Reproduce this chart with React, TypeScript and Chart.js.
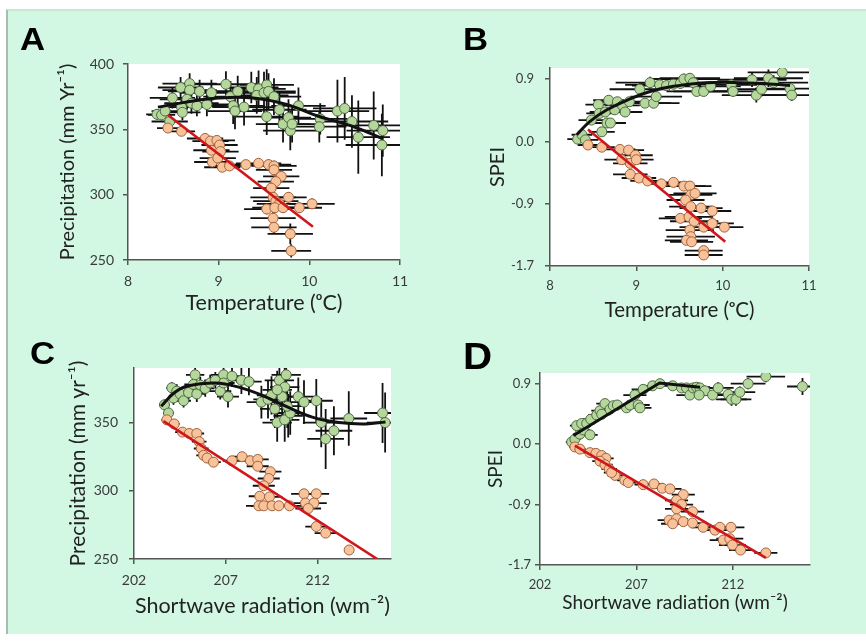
import React, { useEffect, useRef } from "react";
import { Chart, registerables } from "chart.js";
Chart.register(...registerables);

// ---------------- Tick values / labels ----------------
const tempTicks = [8, 9, 10, 11];
const tempTickLabels = ["8", "9", "10", "11"];
const radTicks = [202, 207, 212];
const radTickLabels = ["202", "207", "212"];
const precipTicksA = [250, 300, 350, 400];
const precipTickLabelsA = ["250", "300", "350", "400"];
const precipTicksC = [250, 300, 350];
const precipTickLabelsC = ["250", "300", "350"];
const speiTicks = [-1.7, -0.85, 0, 0.85];
const speiTickLabels = ["-1.7", "-0.9", "0.0", "0.9"];

// ---------------- Panel A: Temperature vs Precipitation ----------------
const aGreenT = [8.32, 8.37, 8.41, 8.46, 8.49, 8.58, 8.68, 8.68, 8.59, 8.6, 8.65, 8.7, 8.79, 8.76, 8.87, 8.92, 9.08, 9.13, 9.16, 9.21, 9.28, 9.18, 9.36, 9.44, 9.42, 9.53, 9.5, 9.55, 9.61, 9.53, 9.67, 9.71, 9.77, 9.79, 9.81, 9.88, 10.12, 10.11, 10.31, 10.39, 10.47, 10.54, 10.71, 10.81, 10.8];
const aGreenP = [361.5, 361, 364, 356, 374, 382, 385, 380, 367, 363, 373, 370, 379, 368, 369, 378, 384.5, 375, 368, 379, 367, 364, 382, 381, 376, 384, 378, 379, 375, 359.7, 365, 354, 359, 349, 354, 368, 358, 352, 364, 366, 356, 344, 353, 349, 338];
const aGreenTErr = [0.12, 0.15, 0.15, 0.2, 0.25, 0.25, 0.3, 0.3, 0.25, 0.2, 0.3, 0.3, 0.35, 0.3, 0.35, 0.35, 0.35, 0.3, 0.35, 0.3, 0.35, 0.3, 0.3, 0.3, 0.35, 0.3, 0.35, 0.3, 0.3, 0.35, 0.3, 0.3, 0.25, 0.3, 0.3, 0.3, 0.3, 0.3, 0.35, 0.35, 0.4, 0.35, 0.4, 0.4, 0.4];
const aGreenPErr = [4, 4, 5, 6, 8, 8, 8, 8, 7, 6, 8, 8, 9, 8, 9, 10, 10, 12, 14, 12, 14, 14, 12, 14, 14, 12, 16, 14, 14, 14, 14, 14, 14, 15, 14, 14, 12, 12, 24, 24, 20, 28, 26, 20, 24];
const aOrangeT = [8.44, 8.59, 8.85, 8.91, 8.98, 9.01, 8.92, 9.02, 8.93, 8.99, 9.04, 9.12, 9.3, 9.44, 9.55, 9.61, 9.61, 9.69, 9.63, 9.58, 9.6, 9.63, 9.67, 9.77, 9.53, 9.62, 9.71, 9.89, 10.03, 9.6, 9.61, 9.79, 9.8];
const aOrangeP = [351, 348.5, 343, 341, 341.5, 338, 334, 333, 325, 328, 321, 322, 323, 324, 323, 322, 319, 314, 310, 305, 298, 295, 293, 298, 289, 290, 290, 290, 293, 282, 275, 270, 257];
const aOrangeTErr = [0.12, 0.15, 0.2, 0.2, 0.2, 0.2, 0.2, 0.2, 0.2, 0.2, 0.2, 0.2, 0.2, 0.25, 0.25, 0.25, 0.2, 0.2, 0.2, 0.2, 0.25, 0.25, 0.25, 0.2, 0.25, 0.25, 0.25, 0.25, 0.25, 0.25, 0.25, 0.25, 0.22];
const aOrangePErr = [3, 3, 3, 3, 3, 3, 3, 3, 3, 3, 3, 3, 3, 3, 4, 4, 4, 4, 4, 4, 4, 4, 4, 4, 4, 4, 4, 4, 4, 5, 5, 8, 5];
const aFitT = [8.33, 8.65, 9.0, 9.38, 9.75, 10.1, 10.49, 10.8];
const aFitP = [367, 371, 374, 374, 369, 360, 352, 343];
const aLineT = [8.44, 10.04];
const aLineP = [361, 275.5];

// ---------------- Panel B: Temperature vs SPEI ----------------
const bGreenT = [8.32, 8.37, 8.41, 8.48, 8.56, 8.6, 8.57, 8.64, 8.68, 8.66, 8.7, 8.75, 8.78, 8.84, 8.87, 8.92, 9.04, 9.1, 9.16, 9.2, 9.23, 9.27, 9.35, 9.43, 9.51, 9.55, 9.62, 9.66, 9.7, 9.78, 9.86, 10.1, 10.12, 10.34, 10.39, 10.45, 10.53, 10.59, 10.69, 10.78, 10.8];
const bGreenS = [0.03, 0.09, 0.02, 0.29, 0.5, 0.13, 0.38, 0.4, 0.56, 0.25, 0.25, 0.43, 0.54, 0.49, 0.4, 0.54, 0.71, 0.52, 0.8, 0.52, 0.61, 0.77, 0.76, 0.78, 0.79, 0.85, 0.86, 0.8, 0.68, 0.68, 0.75, 0.77, 0.68, 0.84, 0.63, 0.71, 0.86, 0.8, 0.94, 0.72, 0.63];
const bGreenTErr = [0.12, 0.12, 0.15, 0.15, 0.15, 0.15, 0.15, 0.18, 0.18, 0.18, 0.18, 0.18, 0.2, 0.2, 0.2, 0.25, 0.35, 0.3, 0.4, 0.3, 0.3, 0.4, 0.4, 0.4, 0.35, 0.4, 0.35, 0.35, 0.35, 0.35, 0.35, 0.3, 0.35, 0.4, 0.4, 0.4, 0.4, 0.4, 0.4, 0.4, 0.4];
const bGreenSErr = [0.04, 0.04, 0.04, 0.05, 0.06, 0.05, 0.05, 0.05, 0.06, 0.05, 0.05, 0.06, 0.06, 0.06, 0.06, 0.06, 0.07, 0.06, 0.08, 0.06, 0.06, 0.07, 0.07, 0.07, 0.07, 0.07, 0.07, 0.07, 0.06, 0.06, 0.06, 0.06, 0.06, 0.1, 0.1, 0.1, 0.12, 0.1, 0.1, 0.08, 0.08];
const bOrangeT = [8.44, 8.6, 8.81, 8.91, 8.99, 8.83, 8.93, 9.0, 8.93, 9.03, 9.13, 9.29, 9.43, 9.55, 9.62, 9.63, 9.68, 9.57, 9.63, 9.75, 9.88, 9.51, 9.61, 9.67, 9.78, 9.88, 10.02, 9.62, 9.63, 9.58, 9.64, 9.78, 9.78];
const bOrangeS = [-0.05, -0.08, -0.11, -0.12, -0.19, -0.25, -0.3, -0.25, -0.45, -0.5, -0.54, -0.58, -0.56, -0.61, -0.61, -0.73, -0.71, -0.8, -0.89, -0.91, -0.95, -1.05, -1.03, -1.09, -1.17, -1.12, -1.17, -1.21, -1.3, -1.35, -1.37, -1.49, -1.55];
const bOrangeTErr = [0.12, 0.15, 0.18, 0.18, 0.2, 0.2, 0.2, 0.2, 0.2, 0.2, 0.2, 0.2, 0.22, 0.25, 0.25, 0.25, 0.25, 0.22, 0.25, 0.25, 0.22, 0.25, 0.28, 0.28, 0.28, 0.25, 0.22, 0.28, 0.28, 0.25, 0.25, 0.22, 0.22];
const bOrangeSErr = [0.03, 0.03, 0.03, 0.03, 0.03, 0.03, 0.03, 0.03, 0.03, 0.03, 0.03, 0.03, 0.03, 0.03, 0.03, 0.03, 0.03, 0.03, 0.03, 0.03, 0.03, 0.03, 0.03, 0.03, 0.03, 0.03, 0.03, 0.03, 0.03, 0.03, 0.03, 0.03, 0.03];
const bFitT = [8.31, 8.46, 8.66, 8.89, 9.16, 9.43, 9.82, 10.2, 10.59, 10.78];
const bFitS = [0.09, 0.27, 0.43, 0.56, 0.68, 0.75, 0.8, 0.8, 0.78, 0.76];
const bLineT = [8.44, 10.03];
const bLineS = [0.16, -1.37];

// ---------------- Panel C: Shortwave radiation vs Precipitation ----------------
const cGreenR = [203.66, 203.88, 204.06, 204.33, 204.15, 204.51, 204.7, 204.97, 205.33, 205.24, 205.42, 205.61, 205.88, 206.15, 206.43, 206.7, 206.88, 206.88, 207.12, 207.34, 207.85, 208.26, 208.94, 209.3, 209.67, 209.8, 209.92, 210.29, 210.21, 210.07, 210.4, 210.21, 210.51, 210.35, 210.95, 211.26, 211.93, 212.2, 212.44, 212.89, 213.7, 215.54, 215.68, 209.49, 209.8];
const cGreenP = [363, 357, 375.5, 373, 368, 371, 366, 372, 385, 378, 371, 377.5, 375, 379, 381, 373, 385, 379, 369, 384, 381, 380, 365, 367, 360, 350, 381, 385, 376, 369, 355, 352, 357, 362, 369, 365, 366, 350, 338, 344, 353, 357, 350, 370, 374];
const cGreenRErr = [0.3, 0.3, 0.3, 0.35, 0.3, 0.35, 0.4, 0.4, 0.5, 0.5, 0.5, 0.5, 0.5, 0.5, 0.6, 0.6, 0.7, 0.6, 0.6, 0.7, 0.7, 0.7, 0.8, 0.8, 0.8, 0.8, 0.8, 0.8, 0.8, 0.8, 0.8, 0.8, 0.8, 0.8, 0.9, 0.9, 0.9, 1.0, 1.0, 1.0, 1.0, 1.0, 1.0, 0.8, 0.8];
const cGreenPErr = [4, 4, 4, 5, 5, 5, 5, 5, 6, 6, 6, 6, 6, 6, 6, 6, 8, 8, 8, 8, 10, 10, 12, 14, 14, 14, 14, 14, 14, 14, 16, 16, 16, 16, 14, 16, 16, 18, 22, 18, 20, 22, 22, 14, 14];
const cOrangeR = [203.79, 204.19, 204.64, 205.01, 205.42, 205.55, 205.66, 205.79, 205.98, 206.33, 207.34, 207.89, 208.34, 208.74, 208.74, 209.43, 209.34, 209.07, 208.85, 209.38, 208.8, 209.07, 209.52, 209.89, 210.47, 211.26, 211.93, 211.34, 211.8, 211.49, 211.93, 212.44, 213.72];
const cOrangeP = [352, 349, 343, 342, 342, 336, 331, 326, 324, 321, 322, 325, 322, 323, 318, 314, 309, 303.7, 296, 295.5, 289, 289, 289, 289, 289, 297.8, 297.8, 291, 291, 287, 273.8, 269, 256.6];
const cOrangeRErr = [0.3, 0.3, 0.4, 0.4, 0.4, 0.4, 0.4, 0.4, 0.4, 0.4, 0.5, 0.5, 0.5, 0.6, 0.6, 0.6, 0.6, 0.6, 0.6, 0.7, 0.7, 0.7, 0.7, 0.7, 0.7, 0.7, 0.7, 0.7, 0.7, 0.7, 0.6, 0.6, 0];
const cOrangePErr = [3, 3, 3, 3, 3, 3, 3, 3, 3, 3, 3, 3, 3, 3, 3, 3, 3, 3, 3, 3, 3, 3, 3, 3, 3, 3, 3, 3, 3, 3, 3, 3, 0];
const cFitR = [203.48, 204.21, 204.96, 206.43, 207.7, 208.98, 210.26, 211.71, 213.17, 214.62, 215.7];
const cFitP = [362, 372, 377, 379, 376, 370, 362, 354, 350, 349, 350.5];
const cLineR = [203.6, 215.25];
const cLineP = [351, 250];

// ---------------- Panel D: Shortwave radiation vs SPEI ----------------
const dGreenR = [203.64, 203.81, 204.07, 204.24, 203.9, 204.16, 204.42, 204.63, 204.59, 204.94, 205.11, 205.37, 205.2, 205.63, 205.8, 206.01, 206.49, 206.66, 206.92, 207.09, 207.18, 207.35, 207.84, 208.22, 208.88, 209.34, 209.6, 209.77, 209.94, 210.12, 210.29, 210.55, 210.25, 210.95, 211.24, 211.76, 211.93, 212.16, 212.36, 212.79, 213.71, 215.61];
const dGreenS = [0.03, 0.07, 0.14, 0.2, 0.26, 0.29, 0.29, 0.35, 0.13, 0.41, 0.47, 0.57, 0.42, 0.49, 0.54, 0.55, 0.51, 0.55, 0.69, 0.55, 0.51, 0.77, 0.82, 0.85, 0.82, 0.79, 0.79, 0.69, 0.79, 0.8, 0.79, 0.75, 0.69, 0.69, 0.79, 0.7, 0.63, 0.63, 0.73, 0.85, 0.95, 0.81];
const dGreenRErr = [0.3, 0.3, 0.35, 0.35, 0.35, 0.4, 0.4, 0.4, 0.4, 0.45, 0.45, 0.45, 0.45, 0.45, 0.5, 0.5, 0.6, 0.6, 0.6, 0.6, 0.6, 0.6, 0.6, 0.6, 0.7, 0.7, 0.7, 0.7, 0.7, 0.7, 0.7, 0.7, 0.7, 0.8, 0.8, 0.8, 0.8, 0.8, 0.8, 0.9, 1.0, 0.8];
const dGreenSErr = [0.03, 0.03, 0.03, 0.04, 0.04, 0.04, 0.04, 0.04, 0.04, 0.04, 0.04, 0.05, 0.04, 0.04, 0.05, 0.05, 0.05, 0.05, 0.05, 0.05, 0.05, 0.05, 0.05, 0.05, 0.06, 0.06, 0.06, 0.06, 0.06, 0.06, 0.07, 0.07, 0.07, 0.07, 0.08, 0.08, 0.09, 0.09, 0.08, 0.08, 0.08, 0.12];
const dOrangeR = [203.81, 204.07, 204.59, 204.9, 205.2, 205.42, 205.11, 205.37, 205.59, 205.89, 205.71, 206.4, 206.58, 207.35, 207.91, 208.34, 208.74, 209.43, 209.08, 209.34, 209.08, 209.91, 208.7, 209.08, 208.88, 209.43, 209.91, 210.46, 211.07, 211.33, 211.9, 211.5, 211.84, 211.98, 212.4, 213.71];
const dOrangeS = [-0.04, -0.07, -0.12, -0.13, -0.16, -0.2, -0.24, -0.29, -0.35, -0.44, -0.4, -0.51, -0.54, -0.57, -0.56, -0.62, -0.63, -0.71, -0.79, -0.85, -0.91, -0.95, -1.07, -1.05, -1.12, -1.09, -1.11, -1.17, -1.21, -1.17, -1.17, -1.35, -1.33, -1.42, -1.49, -1.53];
const dOrangeRErr = [0.3, 0.3, 0.35, 0.35, 0.4, 0.4, 0.4, 0.4, 0.4, 0.4, 0.4, 0.4, 0.4, 0.45, 0.5, 0.5, 0.6, 0.6, 0.6, 0.6, 0.6, 0.6, 0.6, 0.6, 0.6, 0.6, 0.6, 0.6, 0.7, 0.7, 0.7, 0.7, 0.7, 0.7, 0.6, 0.6];
const dOrangeSErr = [0.02, 0.02, 0.02, 0.02, 0.02, 0.02, 0.02, 0.02, 0.02, 0.02, 0.02, 0.02, 0.02, 0.02, 0.02, 0.02, 0.02, 0.02, 0.02, 0.02, 0.02, 0.02, 0.02, 0.02, 0.02, 0.02, 0.02, 0.02, 0.02, 0.02, 0.02, 0.02, 0.02, 0.02, 0.02, 0.02];
const dFitR = [203.73, 208.2, 210.3];
const dFitS = [0.12, 0.86, 0.8];
const dLineR = [203.81, 213.71];
const dLineS = [-0.02, -1.6];

// ---------------- Styling ----------------
const FONT = "Lato, 'Open Sans', sans-serif";
const MINT = "#d2f8e4";
const GREEN_FILL = "#b6d79c";
const GREEN_EDGE = "#4d6b43";
const ORANGE_FILL = "#f8c29b";
const ORANGE_EDGE = "#a4643b";
const AXIS = "#555555";
const W = 866;
const H = 642;

type Series = { x: number[]; y: number[]; ex?: number[]; ey?: number[] };
type PanelCfg = {
  letter: string;
  letterPos: [number, number];
  letterSize: number;
  area: { l: number; t: number; r: number; b: number };
  yTitleX: number;
  xTitleY: number;
  xMin: number; xMax: number; yMin: number; yMax: number;
  xTicks: number[]; xLabels: string[]; yTicks: number[]; yLabels: string[];
  xTitle: string; yTitle: string;
  xTitleSize: number; yTitleSize: number; tickSize: number;
  xTickPad: number; yTickPad: number;
  green: Series; orange: Series; fit: Series; line: Series; fitTension: number;
};

const panels: PanelCfg[] = [
  {
    letter: "A", letterPos: [20, 24], letterSize: 31,
    area: { l: 128, t: 64, r: 400, b: 260 }, yTitleX: 68, xTitleY: 303,
    xMin: 8, xMax: 11, yMin: 250, yMax: 400,
    xTicks: tempTicks, xLabels: tempTickLabels, yTicks: precipTicksA, yLabels: precipTickLabelsA,
    xTitle: "Temperature (ᵒC)", yTitle: "Precipitation (mm Yr⁻¹)",
    xTitleSize: 21.5, yTitleSize: 20, tickSize: 14, xTickPad: 8, yTickPad: 9,
    green: { x: aGreenT, y: aGreenP, ex: aGreenTErr, ey: aGreenPErr },
    orange: { x: aOrangeT, y: aOrangeP, ex: aOrangeTErr, ey: aOrangePErr },
    fit: { x: aFitT, y: aFitP }, line: { x: aLineT, y: aLineP }, fitTension: 0.4,
  },
  {
    letter: "B", letterPos: [463, 24], letterSize: 31,
    area: { l: 550, t: 68, r: 809, b: 266 }, yTitleX: 498, xTitleY: 310,
    xMin: 8, xMax: 11, yMin: -1.7, yMax: 1.0,
    xTicks: tempTicks, xLabels: tempTickLabels, yTicks: speiTicks, yLabels: speiTickLabels,
    xTitle: "Temperature (ᵒC)", yTitle: "SPEI",
    xTitleSize: 20.5, yTitleSize: 20, tickSize: 13, xTickPad: 7, yTickPad: 11,
    green: { x: bGreenT, y: bGreenS, ex: bGreenTErr, ey: bGreenSErr },
    orange: { x: bOrangeT, y: bOrangeS, ex: bOrangeTErr, ey: bOrangeSErr },
    fit: { x: bFitT, y: bFitS }, line: { x: bLineT, y: bLineS }, fitTension: 0.4,
  },
  {
    letter: "C", letterPos: [30, 338], letterSize: 31,
    area: { l: 134, t: 368, r: 391, b: 559 }, yTitleX: 78, xTitleY: 606,
    xMin: 202, xMax: 216, yMin: 250, yMax: 390,
    xTicks: radTicks, xLabels: radTickLabels, yTicks: precipTicksC, yLabels: precipTickLabelsC,
    xTitle: "Shortwave radiation (wm⁻²)", yTitle: "Precipitation (mm yr⁻¹)",
    xTitleSize: 21.5, yTitleSize: 21, tickSize: 14, xTickPad: 8, yTickPad: 11,
    green: { x: cGreenR, y: cGreenP, ex: cGreenRErr, ey: cGreenPErr },
    orange: { x: cOrangeR, y: cOrangeP, ex: cOrangeRErr, ey: cOrangePErr },
    fit: { x: cFitR, y: cFitP }, line: { x: cLineR, y: cLineP }, fitTension: 0.4,
  },
  {
    letter: "D", letterPos: [463, 339], letterSize: 36,
    area: { l: 540, t: 373, r: 810, b: 565 }, yTitleX: 496, xTitleY: 603,
    xMin: 202, xMax: 216, yMin: -1.7, yMax: 1.0,
    xTicks: radTicks, xLabels: radTickLabels, yTicks: speiTicks, yLabels: speiTickLabels,
    xTitle: "Shortwave radiation (wm⁻²)", yTitle: "SPEI",
    xTitleSize: 19, yTitleSize: 19, tickSize: 13, xTickPad: 7, yTickPad: 4,
    green: { x: dGreenR, y: dGreenS, ex: dGreenRErr, ey: dGreenSErr },
    orange: { x: dOrangeR, y: dOrangeS, ex: dOrangeRErr, ey: dOrangeSErr },
    fit: { x: dFitR, y: dFitS }, line: { x: dLineR, y: dLineS }, fitTension: 0,
  },
];

function pts(xs: number[], ys: number[]) {
  return xs.map((x, i) => ({ x, y: ys[i] }));
}

const decorPlugin = {
  id: "panelDecor",
  beforeDraw(chart: any) {
    const { ctx, chartArea } = chart;
    ctx.save();
    ctx.fillStyle = "#ffffff";
    ctx.fillRect(chartArea.left, chartArea.top, chartArea.right - chartArea.left, chartArea.bottom - chartArea.top);
    ctx.restore();
  },
  beforeDatasetsDraw(chart: any) {
    const { ctx, chartArea } = chart;
    const xs = chart.scales.x;
    const ys = chart.scales.y;
    ctx.save();
    ctx.beginPath();
    ctx.rect(chartArea.left, chartArea.top, chartArea.right - chartArea.left, chartArea.bottom - chartArea.top);
    ctx.clip();
    ctx.strokeStyle = "#111111";
    ctx.lineWidth = 1.8;
    chart.data.datasets.forEach((ds: any) => {
      const ex: number[] | undefined = ds.errX;
      const ey: number[] | undefined = ds.errY;
      if (!ex && !ey) return;
      ds.data.forEach((p: any, i: number) => {
        const px = xs.getPixelForValue(p.x);
        const py = ys.getPixelForValue(p.y);
        ctx.beginPath();
        if (ex && ex[i]) {
          ctx.moveTo(xs.getPixelForValue(p.x - ex[i]), py);
          ctx.lineTo(xs.getPixelForValue(p.x + ex[i]), py);
        }
        if (ey && ey[i]) {
          ctx.moveTo(px, ys.getPixelForValue(p.y - ey[i]));
          ctx.lineTo(px, ys.getPixelForValue(p.y + ey[i]));
        }
        ctx.stroke();
      });
    });
    ctx.restore();
  },
};

function Panel({ cfg }: { cfg: PanelCfg }) {
  const ref = useRef<HTMLCanvasElement | null>(null);
  useEffect(() => {
    if (!ref.current) return;
    const yLH = cfg.yTitleSize * 1.2;
    const xLH = cfg.xTitleSize * 1.2;
    const padLeft = cfg.yTitleX - yLH / 2;
    const yWidth = cfg.area.l - padLeft;
    const xBottom = cfg.xTitleY + xLH / 2;
    const xHeight = xBottom - cfg.area.b;
    const tickFont = { family: FONT, size: cfg.tickSize };
    const chart = new Chart(ref.current, {
      type: "scatter",
      data: {
        datasets: [
          {
            label: "linear fit",
            data: pts(cfg.line.x, cfg.line.y),
            showLine: true,
            borderColor: "#d0161b",
            borderWidth: 2.6,
            pointRadius: 0,
            tension: 0,
          },
          {
            label: "polynomial fit",
            data: pts(cfg.fit.x, cfg.fit.y),
            showLine: true,
            borderColor: "#111111",
            borderWidth: 3,
            pointRadius: 0,
            tension: cfg.fitTension,
          },
          {
            label: "orange",
            data: pts(cfg.orange.x, cfg.orange.y),
            pointRadius: 5,
            pointBackgroundColor: ORANGE_FILL,
            pointBorderColor: ORANGE_EDGE,
            pointBorderWidth: 1,
            errX: cfg.orange.ex,
            errY: cfg.orange.ey,
          } as any,
          {
            label: "green",
            data: pts(cfg.green.x, cfg.green.y),
            pointRadius: 5,
            pointBackgroundColor: GREEN_FILL,
            pointBorderColor: GREEN_EDGE,
            pointBorderWidth: 1,
            errX: cfg.green.ex,
            errY: cfg.green.ey,
          } as any,
        ],
      },
      options: {
        animation: false,
        responsive: false,
        events: [],
        layout: {
          padding: { left: padLeft, top: cfg.area.t, right: W - cfg.area.r, bottom: H - xBottom },
        },
        plugins: { legend: { display: false }, tooltip: { enabled: false } },
        scales: {
          x: {
            type: "linear",
            min: cfg.xMin,
            max: cfg.xMax,
            afterBuildTicks: (s: any) => {
              s.ticks = cfg.xTicks.map((v) => ({ value: v }));
            },
            afterFit: (s: any) => {
              s.height = xHeight;
            },
            ticks: {
              autoSkip: false,
              maxRotation: 0,
              padding: cfg.xTickPad,
              font: tickFont,
              color: "#3a3a3a",
              callback: (_v: any, i: number) => cfg.xLabels[i],
            },
            grid: { display: true, drawOnChartArea: false, drawTicks: true, tickLength: 5, color: AXIS, lineWidth: 1.5 },
            border: { display: true, color: AXIS, width: 1.5 },
            title: { display: true, text: cfg.xTitle, font: { family: FONT, size: cfg.xTitleSize }, color: "#222222", padding: 0 },
          },
          y: {
            type: "linear",
            min: cfg.yMin,
            max: cfg.yMax,
            afterBuildTicks: (s: any) => {
              s.ticks = cfg.yTicks.map((v) => ({ value: v }));
            },
            afterFit: (s: any) => {
              s.width = yWidth;
            },
            ticks: {
              autoSkip: false,
              padding: cfg.yTickPad,
              font: tickFont,
              color: "#3a3a3a",
              callback: (_v: any, i: number) => cfg.yLabels[i],
            },
            grid: { display: true, drawOnChartArea: false, drawTicks: true, tickLength: 5, color: AXIS, lineWidth: 1.5 },
            border: { display: true, color: AXIS, width: 1.5 },
            title: { display: true, text: cfg.yTitle, font: { family: FONT, size: cfg.yTitleSize }, color: "#222222", padding: 0 },
          },
        },
      } as any,
      plugins: [decorPlugin],
    });
    return () => chart.destroy();
  }, [cfg]);
  return (
    <canvas
      ref={ref}
      width={W}
      height={H}
      style={{ position: "absolute", left: 0, top: 0, width: W, height: H }}
    />
  );
}

export default function App() {
  return (
    <div style={{ position: "absolute", left: 0, top: 0, width: W, height: H, background: "#ffffff", overflow: "hidden" }}>
      <div
        style={{
          position: "absolute",
          left: 6,
          top: 9,
          width: W - 6,
          height: 625,
          background: MINT,
          borderLeft: "2px solid #a5bcb0",
          borderTop: "2px solid #c3e9d6",
          boxSizing: "border-box",
        }}
      />
      {panels.map((p) => (
        <Panel key={p.letter} cfg={p} />
      ))}
      {panels.map((p) => (
        <div
          key={"L" + p.letter}
          style={{
            position: "absolute",
            left: p.letterPos[0],
            top: p.letterPos[1],
            fontFamily: "'Liberation Sans', Arial, sans-serif",
            fontWeight: 700,
            fontSize: p.letterSize,
            lineHeight: 1,
            color: "#000",
            transform: "scaleX(1.12)",
            transformOrigin: "left top",
          }}
        >
          {p.letter}
        </div>
      ))}
    </div>
  );
}
